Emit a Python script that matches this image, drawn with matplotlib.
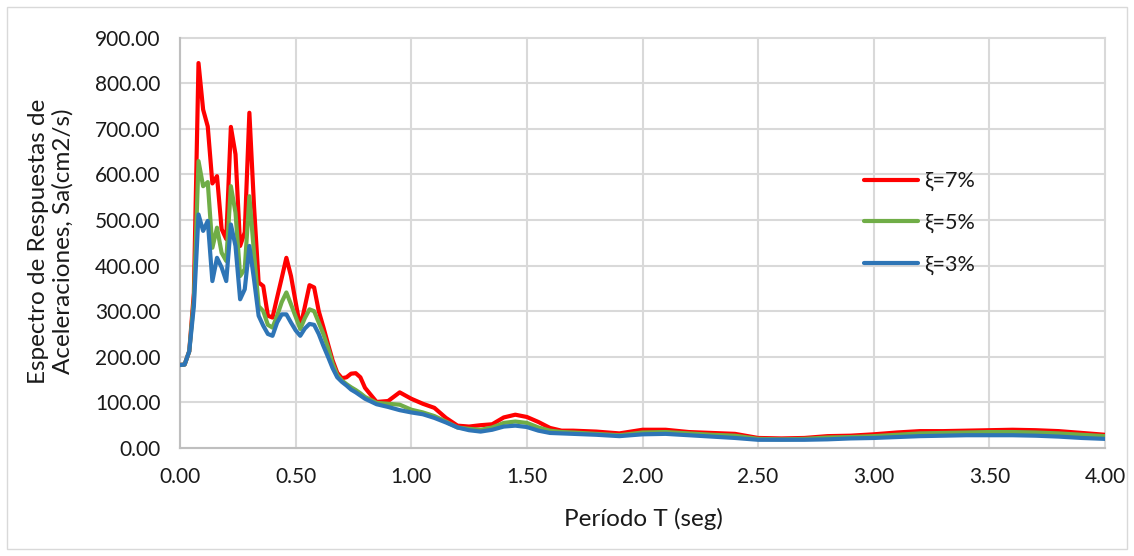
import matplotlib
matplotlib.use("Agg")
import matplotlib.pyplot as plt
from matplotlib.patches import Rectangle

plt.rcParams['font.family'] = ['Lato', 'DejaVu Sans']

# Periods (s)
periodo = [0.00, 0.02, 0.04, 0.06, 0.08, 0.10, 0.12, 0.14, 0.16, 0.18,
           0.20, 0.22, 0.24, 0.26, 0.28, 0.30, 0.32, 0.34, 0.36, 0.38,
           0.40, 0.42, 0.44, 0.46, 0.48, 0.50, 0.52, 0.54, 0.56, 0.58,
           0.60, 0.62, 0.64, 0.66, 0.68, 0.70, 0.72, 0.74, 0.76, 0.78,
           0.80,
           0.85, 0.90, 0.95, 1.00, 1.05, 1.10, 1.15, 1.20, 1.25, 1.30,
           1.35, 1.40, 1.45, 1.50, 1.55, 1.60, 1.65, 1.70,
           1.80, 1.90, 2.00, 2.10, 2.20, 2.30, 2.40, 2.50, 2.60, 2.70,
           2.80, 2.90, 3.00, 3.10, 3.20, 3.30, 3.40, 3.50, 3.60, 3.70,
           3.80, 3.90, 4.00]

# Spectral accelerations Sa (cm/s2) for each damping ratio
sa_7 = [182, 183, 212, 340, 844, 742, 705, 580, 596, 480,
        458, 704, 644, 443, 473, 735, 531, 363, 355, 290,
        286, 330, 373, 417, 377, 320, 264, 310, 357, 352,
        300, 265, 228, 192, 165, 153, 155, 163, 164, 155,
        132,
        101, 103, 122, 108, 97, 88, 66, 49, 47, 50,
        52, 67, 73, 68, 57, 44, 38, 38,
        36, 32, 40, 40, 35, 33, 31, 22, 21, 22,
        26, 27, 30, 34, 37, 37, 38, 39, 40, 39,
        37, 33, 29]

sa_5 = [182, 183, 212, 325, 629, 574, 583, 439, 483, 428,
        410, 574, 516, 377, 392, 552, 428, 311, 300, 270,
        264, 290, 320, 341, 315, 288, 261, 285, 304, 300,
        275, 250, 220, 185, 160, 148, 140, 133, 127, 120,
        112,
        99, 97, 95, 84, 78, 70, 58, 45, 42, 40,
        45, 55, 58, 55, 45, 38, 35, 34,
        31, 28, 34, 35, 32, 29, 27, 20, 19, 20,
        23, 24, 26, 29, 32, 33, 34, 35, 35, 34,
        32, 29, 26]

sa_3 = [182, 183, 212, 311, 512, 476, 498, 366, 417, 396,
        366, 490, 443, 326, 348, 443, 370, 290, 268, 250,
        246, 275, 293, 293, 275, 258, 246, 262, 272, 270,
        250, 224, 200, 175, 155, 145, 137, 128, 122, 115,
        108,
        96, 90, 83, 78, 74, 66, 56, 45, 39, 36,
        40, 47, 49, 46, 38, 33, 32, 31,
        29, 26, 30, 31, 28, 25, 22, 18, 18, 18,
        19, 21, 22, 24, 26, 27, 28, 28, 28, 27,
        25, 22, 20]

labels = ["ξ=7%", "ξ=5%", "ξ=3%"]
colors = ["#FF0000", "#70AD47", "#2E75B6"]
x_ticks = [0.0, 0.5, 1.0, 1.5, 2.0, 2.5, 3.0, 3.5, 4.0]
y_ticks = [0, 100, 200, 300, 400, 500, 600, 700, 800, 900]

W, H = 1134, 556
fig = plt.figure(figsize=(W / 100, H / 100), dpi=100)
ax = fig.add_axes([180 / W, (H - 448) / H, 925 / W, 410.5 / H])

text_color = "#1a1a1a"
grid_color = "#D9D9D9"
axis_color = "#BFBFBF"

for sa, lab, col in zip([sa_7, sa_5, sa_3], labels, colors):
    ax.plot(periodo, sa, color=col, lw=3.0, label=lab,
            solid_joinstyle="round", solid_capstyle="round", zorder=3)

ax.set_xlim(0, 4)
ax.set_ylim(0, 900)
ax.set_xticks(x_ticks)
ax.set_yticks(y_ticks)
ax.set_xticklabels([f"{v:.2f}" for v in x_ticks])
ax.set_yticklabels([f"{v:.2f}" for v in y_ticks])
ax.tick_params(length=0, labelsize=15, colors=text_color)
ax.tick_params(axis="x", pad=14)
ax.tick_params(axis="y", pad=14)

ax.grid(True, color=grid_color, lw=1.5, zorder=0)
for gl in ax.get_xgridlines() + ax.get_ygridlines():
    gl.set_clip_on(False)
ax.set_axisbelow(True)
for s in ["top", "right"]:
    ax.spines[s].set_visible(False)
for s in ["left", "bottom"]:
    ax.spines[s].set_color(axis_color)
    ax.spines[s].set_linewidth(1.5)

ax.set_xlabel("Período T (seg)", fontsize=17.5, color=text_color)
ax.xaxis.set_label_coords((643 - 180) / 925, -(508 - 448) / 410.5)
fig.text(51 / W, 1 - 241 / H, "Espectro de Respuestas de\nAceleraciones, Sa(cm2/s)",
         rotation=90, ha="center", va="center", fontsize=17.5,
         color=text_color, linespacing=1.2, multialignment="center")

leg = ax.legend(loc="center left", bbox_to_anchor=(864 / W, 1 - 223 / H),
                bbox_transform=fig.transFigure, frameon=False, fontsize=15.5,
                handlelength=2.5, handletextpad=0.3, labelspacing=1.0,
                borderpad=0, borderaxespad=0)
for t in leg.get_texts():
    t.set_color(text_color)

fig.patches.append(Rectangle((7 / W, 7 / H), (W - 14) / W, (H - 14) / H,
                             transform=fig.transFigure, fill=False,
                             edgecolor=grid_color, lw=1.0))

fig.savefig("out.png", dpi=100)
